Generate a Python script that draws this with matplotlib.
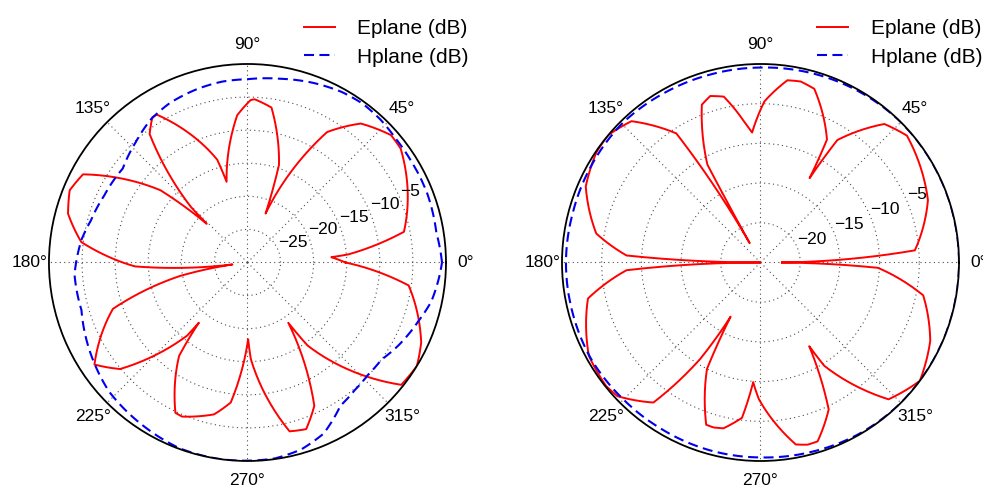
import numpy as np
import matplotlib
matplotlib.use('Agg')
import matplotlib.pyplot as plt

plt.rcParams['font.family'] = ['Liberation Sans', 'DejaVu Sans']

# ---- left panel: E-plane (red) and H-plane (blue), dB vs angle in degrees
left_e_theta = [0, 2, 3.6, 4.6, 5.7, 6.7, 8.4, 11.1, 14.9, 17.3, 21, 25.5, 31.3, 36.6, 41.6, 46.2, 50.8,
                55.0, 58.6, 62.3, 65.3, 67.1, 69.7,
                71.5, 71.9, 72.1, 73.0, 74.8, 76.1, 77.8, 79.3, 81.2, 82.9, 84.5, 86.0, 87.5, 88.9, 90.5,
                92.0, 94.0, 95.7, 97.5, 99.6, 102.2, 104.5,
                106.4, 109.6, 113.6, 117.8, 119.6, 121.5, 123.2, 125, 127.3, 129.7, 132, 134, 135.5, 136.5,
                138.2, 140.3, 143.3, 145.6, 149.5, 151.8, 154.5, 157.9, 161.3, 164.8, 167.6, 170.5, 173,
                175.6, 178, 180, 182, 183.7, 186, 187.6,
                190.9, 191.3, 192.7, 195.6, 199, 203.1, 207.3, 210.7, 213.7, 216.8, 219.9, 222.4, 224.8,
                228.3, 230.5, 231.1,
                232.2, 233.8, 235.8, 237.7, 239.8, 242.3, 244.4, 247, 249.8, 253.6, 257.6, 261.6, 263.2,
                265.9, 268.0, 270.5,
                272, 274.7, 277.6, 279.5, 281.5, 284, 286.5, 289.4, 291.7, 293.6, 295, 297.9, 301.4, 303, 304.1,
                305.9, 309.1, 312.7, 315.4, 317, 319.4, 321.5, 325, 328.6, 332, 335.3, 340, 344.9, 348.9,
                351.9, 355, 357.4, 360]
left_e_db = [-15.2, -16.3, -17.3, -14.7, -11.6, -9.0, -7.2, -5.9, -5.1, -4.4, -3.6, -2.9, -1.8, -1.15, -1.0, -1.6, -2.9,
             -4.5, -6.9, -10.5, -14.4, -18.4, -22.1,
             -19.8, -17.2, -14.5, -12.5, -10.6, -9.1, -8.0, -7.1, -6.3, -5.8, -5.45, -5.3, -5.3, -5.45, -5.8,
             -6.5, -7.7, -9.1, -11.1, -13.0, -15.5, -17.4,
             -13.8, -10.3, -7.3, -5.0, -4.4, -3.8, -3.75, -4.2, -5.6, -7.8, -10.5, -14.0, -18.0, -21.5,
             -17.8, -12.9, -7.9, -4.8, -3.5, -1.8, -1.1, -1.0, -1.3, -1.9, -2.5, -3.6, -4.7,
             -6.2, -8.5, -10.3, -13.0, -15.3, -21.5, -27.7,
             -23.8, -19.6, -15.4, -11.6, -8.5, -5.7, -3.6, -2.4, -2.2, -3.0, -4.9, -6.6, -8.6,
             -12.5, -15.7, -18.3,
             -15.6, -12.5, -9.3, -7.9, -6.7, -5.5, -4.8, -4.7, -5.0, -5.7, -6.5, -7.5, -8.7,
             -12.3, -15.4, -18.4,
             -15.4, -11.3, -7.1, -5.4, -4.5, -3.7, -3.3, -3.3, -4.0, -4.9, -6.1, -9.5, -13.5, -16.5, -19.0,
             -14.5, -9.9, -5.3, -3.6, -2.3, -1.0, -0.3, 0.0, 0.0, -0.4, -1.1, -2.1, -3.2, -4.1,
             -5.4, -8.7, -11.0, -15.2]

left_h_theta = [0, 9, 21, 32, 40, 47, 54, 61, 70, 80, 90, 98, 106, 116, 124, 133, 143, 155, 165, 172,
                180, 184, 196, 210, 223, 238, 250, 262, 270, 278, 286, 294, 303, 310, 317, 324, 331,
                341, 348, 355, 360]
left_h_db = [-0.6, -1.1, -0.9, -0.9, -0.8, -0.5, -0.35, -0.55, -1.1, -1.8, -2.3, -2.4, -2.7, -3.2, -3.9,
             -5.2, -6.4, -6.1, -5.5, -4.7, -4.1, -3.8, -3.9, -2.6, -1.4, -0.7, -0.1, 0.0, -0.05, -0.1,
             -0.6, -1.7, -4.2, -4.8, -5.1, -5.0, -4.0, -2.7, -1.6, -1.0, -0.6]

# ---- right panel
right_e_theta = [0, 0.6, 1.2, 2.3, 4.5, 10, 15.4, 20.4, 24.5, 29.6, 33.9, 37.9, 40.9, 44.6, 48.2, 51.2,
                 54.7, 57.9, 59.0, 59.6, 59.8,
                 60.2, 60.7, 61.6, 64.6, 68.4, 72.8, 77.5, 81.6, 85.6, 88.6, 90.7, 93.7, 96.2, 98.5,
                 102.5, 106.8, 110.4, 114.0, 116.9, 118.5, 118.9, 119.1, 119.2,
                 119.5, 119.8, 120.3, 121.4, 123.1, 124.6, 127.3, 129.7, 132.4, 135.3, 140, 146, 152.7,
                 156.5, 160.4, 163.7, 167.2, 170, 173.2, 175, 177, 178.5, 179.2, 180,
                 180.8, 181.9, 183.3, 185.8, 187.7, 191.8, 195.3, 199.7, 204.1, 208.5, 213.8, 218.7, 223.1,
                 226.8, 229.8, 232.6, 234.4, 236.5, 237.3, 238, 239.2, 241.1,
                 241.4, 243.3, 245.9, 247.4, 249.3, 251.5, 254.1, 257.4, 260.6, 263.2, 264.7, 266.5, 269.3,
                 272.3, 275, 277.5, 281, 284.5, 287.7, 290.5, 292.7, 294.9, 298.6, 299.5, 300.2,
                 301.7, 304.9, 307.4, 309.9, 313.1, 316.5, 320, 323.4, 327, 330.9, 335.2, 339.6, 344,
                 348.6, 353.8, 357.4, 358.6, 360]
right_e_db = [-22.3, -19.0, -13.0, -8.1, -5.5, -4.0, -3.2, -2.5, -2.0, -1.4, -1.05, -0.75, -0.6, -0.9, -1.6, -2.8,
              -4.5, -6.8, -9.0, -11.5, -12.7,
              -11.0, -9.3, -7.4, -5.1, -3.2, -2.1, -1.65, -1.8, -2.8, -4.7, -7.0, -8.6, -7.4, -4.9,
              -3.6, -3.1, -3.8, -5.8, -8.4, -11.0, -15.0, -19.0, -22.2,
              -18.9, -14.6, -10.6, -7.2, -5.6, -4.2, -3.0, -1.9, -0.9, -0.3, 0.0, -0.1, -0.5,
              -1.0, -1.6, -2.1, -2.9, -4.0, -5.0, -6.5, -8.1, -12.3, -18.7, -25.0,
              -18.7, -12.3, -8.1, -5.1, -3.6, -2.8, -2.05, -1.5, -0.85, -0.4, -0.1, -0.1, -0.35,
              -0.95, -1.7, -2.8, -4.3, -5.9, -7.8, -10.7, -14.3, -17.2,
              -13.6, -10.0, -6.1, -4.9, -4.1, -3.45, -3.4, -3.6, -4.3, -5.3, -6.6, -9.9, -7.8,
              -4.4, -3.0, -2.3, -1.65, -1.3, -1.35, -2.1, -3.1, -4.6, -7.8, -10.9, -12.8,
              -9.7, -5.8, -4.1, -2.6, -1.4, -0.6, -0.1, 0.0, -0.3, -0.9, -1.45, -2.3, -3.1,
              -4.1, -6.3, -10.2, -16.6, -22.3]

right_h_theta = [0, 45, 60, 75, 90, 105, 120, 135, 150, 165, 180, 195, 210, 225, 240, 255, 270, 285,
                 300, 315, 330, 345, 360]
right_h_db = [0.0, 0.0, -0.15, -0.3, -0.45, -0.5, -0.45, -0.3, -0.45, -0.55, -0.5, -0.5, -0.45, -0.6,
              -0.6, -0.5, -0.45, -0.3, -0.1, 0.0, 0.0, 0.0, 0.0]

theta_ticks = [0, 45, 90, 135, 180, 225, 270, 315]
left_rticks = [-25, -20, -15, -10, -5]
right_rticks = [-20, -15, -10, -5]

TICK_FS = 12.5
LEG_FS = 15


def polar_panel(fig, rect, e_th, e_db, h_th, h_db, rmin, rticks):
    ax = fig.add_axes(rect, projection='polar')
    le, = ax.plot(np.radians(e_th), e_db, color='#ff0000', lw=1.4, label='Eplane (dB)',
                  solid_joinstyle='round')
    lh, = ax.plot(np.radians(h_th), h_db, color='#0000ee', lw=1.5, ls=(0, (4.8, 2.6)), label='Hplane (dB)')
    # let the polar transform draw each segment as a spiral arc instead of a chord
    for ln in (le, lh):
        ln.get_path()._interpolation_steps = 30
    ax.set_ylim(rmin, 0)
    ax.set_xticks(np.radians(theta_ticks))
    ax.set_xticklabels([])
    ax.set_yticks(rticks)
    ax.set_yticklabels([])
    ax.grid(True, color='0.3', linestyle=(0, (1, 3)), linewidth=0.8)
    ax.spines['polar'].set_linewidth(1.3)
    ax.spines['polar'].set_color('black')
    # classic style labels: theta labels centred at 1.1 x radius, r labels at 22.5 deg
    rlab = 0.1 * (0 - rmin)
    for a in theta_ticks:
        ax.text(np.radians(a), 0 + rlab, '%d\u00b0' % a, ha='center', va='center', fontsize=TICK_FS)
    for r in rticks:
        ax.text(np.radians(22.5), r, '\u2212%d' % abs(r), ha='left', va='bottom', fontsize=TICK_FS)
    ax.legend(loc='upper right', bbox_to_anchor=(1.058, 1.113), frameon=False, fontsize=LEG_FS,
              borderpad=0, borderaxespad=0, handlelength=1.45, handletextpad=1.1, labelspacing=0.45)
    return ax


fig = plt.figure(figsize=(9.83, 4.87), dpi=100)
polar_panel(fig, [0.0498, 0.0534, 0.4039, 0.8152], left_e_theta, left_e_db,
            left_h_theta, left_h_db, -30, left_rticks)
polar_panel(fig, [0.5717, 0.0534, 0.4039, 0.8152], right_e_theta, right_e_db,
            right_h_theta, right_h_db, -25, right_rticks)

fig.savefig('out.png', dpi=100)
